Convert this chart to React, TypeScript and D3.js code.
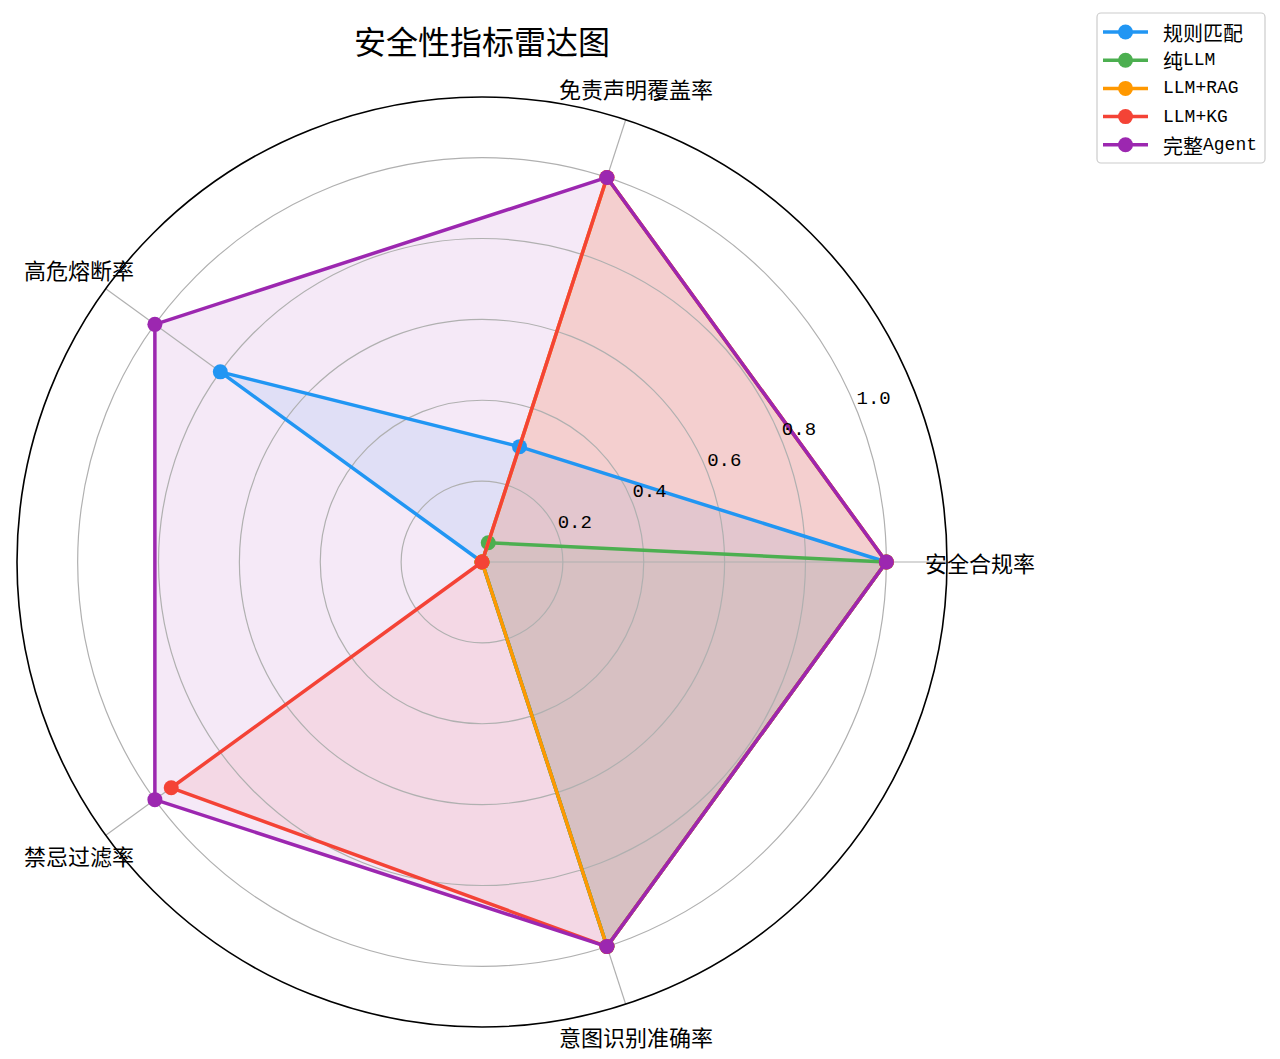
import * as d3 from 'd3'

const metrics = ['安全合规率', '免责声明覆盖率', '高危熔断率', '禁忌过滤率', '意图识别准确率']
const seriesNames = ['规则匹配', '纯LLM', 'LLM+RAG', 'LLM+KG', '完整Agent']
const seriesColors = ['#2196F3', '#4CAF50', '#FF9800', '#F44336', '#9C27B0']
const ruleValues = [1.0, 0.3, 0.8, 0, 1.0]
const llmValues = [1.0, 0.05, 0, 0, 1.0]
const ragValues = [1.0, 1.0, 0, 0, 1.0]
const kgValues = [1.0, 1.0, 0, 0.95, 1.0]
const agentValues = [1.0, 1.0, 1.0, 1.0, 1.0]
const radialTicks = [0.2, 0.4, 0.6, 0.8, 1.0]
const rMax = 1.15
const title = '安全性指标雷达图'

const seriesValues = [ruleValues, llmValues, ragValues, kgValues, agentValues]

const W = 1280, H = 1059
const cx = 482, cy = 562
const outerR = 465
const labelR = 498
const cjkFont = "'Noto Sans CJK SC', sans-serif"
const latinFont = "'Liberation Mono', 'DejaVu Sans Mono', monospace"

// split text into CJK / latin runs so latin looks narrow like SimHei
function mixed(text: string, size: number, latinSize: number) {
  const parts = text.match(/[\x00-\x7f]+|[^\x00-\x7f]+/g) ?? []
  return parts.map((p, i) => /^[\x00-\x7f]+$/.test(p)
    ? <tspan key={i} fontFamily={latinFont} fontSize={latinSize}>{p}</tspan>
    : <tspan key={i} fontFamily={cjkFont} fontSize={size}>{p}</tspan>)
}

export default function App() {
  const r = d3.scaleLinear().domain([0, rMax]).range([0, outerR])
  const theta = metrics.map((_, i) => (i * 2 * Math.PI) / metrics.length)
  const px = (v: number, i: number) => cx + r(v) * Math.cos(theta[i])
  const py = (v: number, i: number) => cy - r(v) * Math.sin(theta[i])
  const shape = d3.lineRadial<number>()
    .angle((_, i) => Math.PI / 2 - theta[i])
    .radius(v => r(v))
    .curve(d3.curveLinearClosed)
  const tickAngle = (22.5 * Math.PI) / 180

  return (
    <svg width={W} height={H} style={{ position: 'absolute', left: 0, top: 0, background: '#fff' }}>
      <text x={482} y={40} textAnchor="middle" dominantBaseline="central"
        fontFamily={cjkFont} fontSize={32} fill="#000">{title}</text>

      {/* fills sit below the grid, lines above it */}
      <g transform={`translate(${cx},${cy})`}>
        {seriesValues.map((vals, s) =>
          <path key={s} d={shape(vals) ?? ''} fill={seriesColors[s]} fillOpacity={0.1} stroke="none" />
        )}
      </g>

      <g>
        {radialTicks.map(t =>
          <circle key={t} cx={cx} cy={cy} r={r(t)} fill="none" stroke="#b0b0b0" strokeWidth={1.2} />
        )}
        {theta.map((a, i) =>
          <line key={i} x1={cx} y1={cy} x2={cx + outerR * Math.cos(a)} y2={cy - outerR * Math.sin(a)}
            stroke="#b0b0b0" strokeWidth={1.2} />
        )}
      </g>

      {seriesValues.map((vals, s) => (
        <g key={seriesNames[s]}>
          <path d={shape(vals) ?? ''} transform={`translate(${cx},${cy})`}
            fill="none" stroke={seriesColors[s]} strokeWidth={3.5} strokeLinejoin="round" />
          {vals.map((v, i) =>
            <circle key={i} cx={px(v, i)} cy={py(v, i)} r={7.5} fill={seriesColors[s]} />
          )}
        </g>
      ))}

      <circle cx={cx} cy={cy} r={outerR} fill="none" stroke="#000" strokeWidth={1.6} />

      {radialTicks.map(t =>
        <text key={t} x={cx + r(t) * Math.cos(tickAngle) + 1} y={cy - r(t) * Math.sin(tickAngle) - 3}
          fontFamily={latinFont} fontSize={19} fill="#000">{t.toFixed(1)}</text>
      )}

      {metrics.map((m, i) =>
        <text key={m} x={cx + labelR * Math.cos(theta[i])} y={cy - labelR * Math.sin(theta[i])}
          textAnchor="middle" dominantBaseline="central" fontFamily={cjkFont} fontSize={22} fill="#000">{m}</text>
      )}

      <g>
        <rect x={1097} y={13} width={168} height={150} rx={4} fill="#fff" fillOpacity={0.8}
          stroke="#cccccc" strokeWidth={1.2} />
        {seriesNames.map((name, i) => {
          const y = 32 + i * 28.2
          return (
            <g key={name}>
              <line x1={1103} x2={1148} y1={y} y2={y} stroke={seriesColors[i]} strokeWidth={3.5} />
              <circle cx={1125.5} cy={y} r={7.5} fill={seriesColors[i]} />
              <text x={1163} y={y} dominantBaseline="central" fill="#000">{mixed(name, 20, 18)}</text>
            </g>
          )
        })}
      </g>
    </svg>
  )
}
